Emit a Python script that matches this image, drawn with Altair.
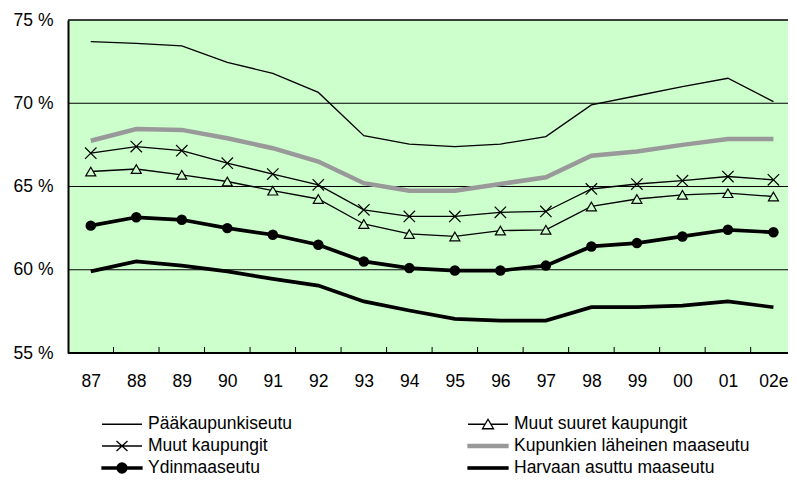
import altair as alt
import pandas as pd

YEARS = ["87", "88", "89", "90", "91", "92", "93", "94", "95", "96", "97", "98", "99", "00", "01", "02e"]
SERIES = [
    "Pääkaupunkiseutu",
    "Muut suuret kaupungit",
    "Muut kaupungit",
    "Kupunkien läheinen maaseutu",
    "Ydinmaaseutu",
    "Harvaan asuttu maaseutu",
]

PAAKAUPUNKISEUTU = [73.7, 73.6, 73.45, 72.45, 71.8, 70.65, 68.05, 67.55, 67.4, 67.55, 68.0, 69.9, 70.45, 71.0, 71.5, 70.1]
MUUT_SUURET = [65.9, 66.05, 65.7, 65.3, 64.75, 64.25, 62.75, 62.15, 62.0, 62.35, 62.4, 63.8, 64.25, 64.5, 64.6, 64.4]
MUUT_KAUPUNGIT = [67.0, 67.4, 67.15, 66.4, 65.75, 65.1, 63.6, 63.2, 63.2, 63.45, 63.5, 64.85, 65.15, 65.35, 65.6, 65.4]
LAHEINEN = [67.75, 68.45, 68.4, 67.9, 67.3, 66.5, 65.2, 64.75, 64.75, 65.15, 65.55, 66.85, 67.1, 67.5, 67.85, 67.85]
YDIN = [62.65, 63.15, 63.0, 62.5, 62.1, 61.5, 60.5, 60.1, 59.95, 59.95, 60.25, 61.4, 61.6, 62.0, 62.4, 62.25]
HARVAAN = [59.9, 60.5, 60.25, 59.9, 59.45, 59.05, 58.1, 57.55, 57.05, 56.95, 56.95, 57.75, 57.75, 57.85, 58.1, 57.75]
VALUES = [PAAKAUPUNKISEUTU, MUUT_SUURET, MUUT_KAUPUNGIT, LAHEINEN, YDIN, HARVAAN]

Y_TICKS = [55, 60, 65, 70, 75]
Y_GRID = [60, 65, 70]

BG = "#CCFFCC"
FONT = "Liberation Sans"
FS = 17.5

LINE_COLORS = ["black", "black", "black", "#999999", "black", "black"]
LINE_WIDTHS = [1.3, 1.3, 1.3, 4.5, 3.7, 3.7]

# legend symbols: custom paths, 1 unit = 10 px at symbolSize 400
LEGEND_PATHS = [
    "M-2,0L2,0",
    "M-2,0L-0.3,0M0.3,0L2,0M0,-0.5L0.55,0.45L-0.55,0.45Z",
    "M-2,0L2,0M-0.55,-0.5L0.55,0.5M-0.55,0.5L0.55,-0.5",
    "M-2,-0.16L2,-0.16L2,0.16L-2,0.16Z",
    "M-2,-0.11L2,-0.11L2,0.11L-2,0.11ZM-0.5,0A0.5,0.5 0 1,1 0.5,0A0.5,0.5 0 1,1 -0.5,0Z",
    "M-2,-0.12L2,-0.12L2,0.12L-2,0.12Z",
]
LEGEND_FILLS = ["transparent", "transparent", "transparent", "#999999", "black", "black"]

df = pd.DataFrame(
    [
        {"series": s, "year": y, "i": i, "value": v}
        for s, vals in zip(SERIES, VALUES)
        for i, (y, v) in enumerate(zip(YEARS, vals))
    ]
)
bounds_df = pd.DataFrame({"b": [i - 0.5 for i in range(1, len(YEARS))]})
grid_df = pd.DataFrame({"g": Y_GRID})
one = pd.DataFrame({"k": [0]})

label_lookup = "[" + ",".join("'%s'" % y for y in YEARS) + "][datum.value]"

x_scale = alt.Scale(domain=[-0.5, 15.32], nice=False, zero=False)
x_axis = alt.Axis(
    title=None, values=list(range(len(YEARS))), labelExpr=label_lookup, labelAngle=0,
    labelFlush=False, labelOverlap=False, domain=False, ticks=False, tickSize=0, grid=False,
    labelPadding=19, labelFontSize=FS, labelColor="black", labelFont=FONT,
)
y_scale = alt.Scale(domain=[55, 75], nice=False, zero=False)
y_axis = alt.Axis(
    title=None, values=Y_TICKS, labelExpr="datum.value + ' %'", grid=False,
    ticks=False, tickSize=0, domain=True, domainColor="black", domainWidth=2,
    labelPadding=15, labelFontSize=FS, labelColor="black", labelFont=FONT, zindex=1,
)

X = alt.X("i:Q", scale=x_scale, axis=x_axis)
Y = alt.Y("value:Q", scale=y_scale, axis=y_axis)

background = alt.Chart(one).mark_rect(color=BG).encode(y=alt.datum(55), y2=alt.datum(75))
grid = alt.Chart(grid_df).mark_rule(color="black", strokeWidth=1).encode(y=alt.Y("g:Q", scale=y_scale, axis=y_axis))

base = alt.Chart(df)
layers = []
for s, c, w in zip(SERIES, LINE_COLORS, LINE_WIDTHS):
    layers.append(
        base.transform_filter(alt.datum.series == s)
        .mark_line(color=c, strokeWidth=w)
        .encode(x=X, y=Y)
    )

tri = base.transform_filter(alt.datum.series == SERIES[1]).mark_point(
    shape="triangle-up", size=100, filled=True, fill=BG, stroke="black", strokeWidth=1.2, opacity=1
).encode(x=X, y=Y)
cross = base.transform_filter(alt.datum.series == SERIES[2]).mark_point(
    shape="M-1,-1L1,1M-1,1L1,-1", size=130, filled=False, stroke="black", strokeWidth=1.2, opacity=1
).encode(x=X, y=Y)
dots = base.transform_filter(alt.datum.series == SERIES[4]).mark_point(
    shape="circle", size=110, filled=True, color="black", opacity=1
).encode(x=X, y=Y)

tick_rules = alt.Chart(bounds_df).mark_rule(color="black", strokeWidth=1).encode(
    x=alt.X("b:Q", scale=x_scale, axis=x_axis),
    y=alt.datum(55),
    y2=alt.datum(55.36),
)
bottom = alt.Chart(one).mark_rule(color="black", strokeWidth=2).encode(y=alt.datum(55))
top = alt.Chart(one).mark_rule(color="black", strokeWidth=1.5).encode(y=alt.datum(75))

LEG = dict(
    orient="none", legendX=34, legendY=393, title=None, columns=2, direction="horizontal",
    columnPadding=173, rowPadding=2, symbolSize=400, symbolOffset=9, labelOffset=15,
    labelFontSize=FS, labelFont=FONT, labelColor="black", labelLimit=400,
    symbolFillColor="transparent", symbolStrokeWidth=1.3,
)
legend = base.transform_filter("false").mark_point(opacity=1, filled=False).encode(
    shape=alt.Shape("series:N", scale=alt.Scale(domain=SERIES, range=LEGEND_PATHS), legend=alt.Legend(**LEG)),
    stroke=alt.Stroke("series:N", scale=alt.Scale(domain=SERIES, range=LINE_COLORS), legend=alt.Legend(**LEG)),
    fill=alt.Fill("series:N", scale=alt.Scale(domain=SERIES, range=LEGEND_FILLS), legend=alt.Legend(**LEG)),
)

chart = (
    alt.layer(background, grid, *layers, tri, cross, dots, tick_rules, bottom, top, legend)
    .properties(width=720, height=333, padding={"left": 5, "top": 3, "right": 0, "bottom": 0})
    .configure(font=FONT)
    .configure_view(stroke="transparent")
)

chart.save("out.html", embed_options={"renderer": "svg", "actions": False})
